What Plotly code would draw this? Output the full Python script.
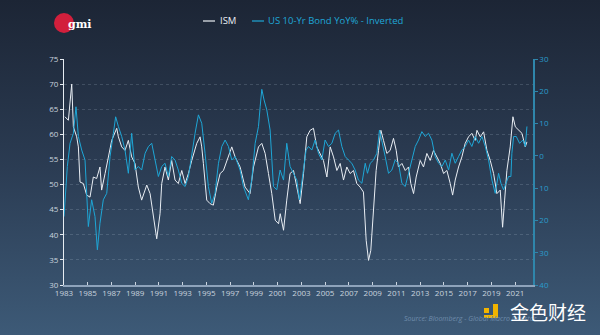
import base64
import plotly.graph_objects as go

# ---------------- data ----------------
ism_year = [1983.08, 1983.37, 1983.65, 1983.79, 1984.07, 1984.21, 1984.35, 1984.63, 1984.91, 1985.19,
            1985.47, 1985.75, 1986.03, 1986.17, 1986.46, 1986.74, 1987.02, 1987.44, 1987.58, 1987.86,
            1988.14, 1988.42, 1988.70, 1988.98, 1989.26, 1989.54, 1989.83, 1989.97, 1990.25, 1990.67,
            1990.81, 1991.09, 1991.23, 1991.51, 1991.79, 1992.07, 1992.35, 1992.63, 1992.92, 1993.20,
            1993.48, 1993.76, 1994.18, 1994.46, 1994.60, 1994.74, 1995.02, 1995.30, 1995.58, 1995.87,
            1996.15, 1996.43, 1996.71, 1997.13, 1997.41, 1997.83, 1998.25, 1998.67, 1998.96, 1999.38,
            1999.66, 1999.94, 2000.22, 2000.50, 2000.79, 2001.07, 2001.21, 2001.49, 2001.76, 2002.04,
            2002.33, 2002.61, 2002.89, 2003.17, 2003.45, 2003.73, 2004.01, 2004.29, 2004.57, 2004.85,
            2005.14, 2005.42, 2005.70, 2005.98, 2006.26, 2006.54, 2006.82, 2007.10, 2007.38, 2007.66,
            2007.94, 2008.22, 2008.45, 2008.65, 2008.84, 2009.07, 2009.29, 2009.49, 2009.69, 2009.91,
            2010.19, 2010.47, 2010.75, 2010.98, 2011.17, 2011.46, 2011.74, 2012.02, 2012.21, 2012.44,
            2012.66, 2013.00, 2013.28, 2013.56, 2013.84, 2014.12, 2014.40, 2014.69, 2014.97, 2015.25,
            2015.53, 2015.73, 2015.95, 2016.23, 2016.51, 2016.79, 2017.07, 2017.35, 2017.63, 2017.78,
            2018.06, 2018.34, 2018.62, 2018.90, 2019.18, 2019.46, 2019.74, 2019.94, 2020.11, 2020.30,
            2020.58, 2020.81, 2021.01, 2021.29, 2021.57, 2021.85, 2021.99]
ism_value = [63.5, 62.8, 70.0, 61.5, 59.5, 57.5, 50.5, 50.2, 47.9, 47.5,
             51.5, 51.2, 53.5, 48.9, 52.2, 55.5, 58.8, 61.2, 59.5, 57.5,
             56.8, 58.8, 55.5, 54.2, 49.5, 46.9, 48.9, 49.9, 48.2, 41.5,
             39.2, 44.2, 50.2, 53.5, 50.9, 54.8, 50.9, 50.2, 52.8, 50.2,
             52.2, 54.8, 58.2, 59.5, 57.5, 54.2, 46.9, 46.2, 45.9, 49.5,
             52.2, 52.8, 54.8, 57.5, 55.5, 53.5, 49.5, 48.2, 53.5, 57.5,
             58.2, 56.2, 52.2, 48.2, 42.9, 42.2, 44.2, 40.9, 46.9, 52.2,
             52.8, 49.5, 46.2, 52.2, 59.5, 60.8, 61.2, 57.5, 56.2, 54.8,
             51.5, 57.5, 55.5, 52.8, 54.2, 50.9, 53.5, 52.2, 52.8, 50.2,
             49.5, 48.5, 38.9, 34.9, 36.9, 44.9, 52.8, 56.8, 60.8, 58.8,
             56.2, 56.8, 59.2, 56.8, 53.5, 54.2, 52.8, 53.5, 50.2, 48.2,
             51.5, 54.8, 53.5, 56.2, 54.8, 56.8, 55.5, 54.2, 52.2, 52.8,
             50.2, 47.9, 50.9, 53.5, 55.5, 58.2, 59.5, 60.2, 58.8, 60.8,
             59.5, 60.5, 56.8, 54.8, 52.2, 48.2, 48.9, 41.5, 46.9, 52.8,
             57.5, 63.5, 61.5, 60.8, 60.2, 57.5, 58.5]

bond_year = [1983.00, 1983.28, 1983.51, 1983.79, 1984.01, 1984.21, 1984.49, 1984.77, 1985.05, 1985.33,
             1985.61, 1985.81, 1986.03, 1986.31, 1986.60, 1986.88, 1987.16, 1987.35, 1987.58, 1987.86,
             1988.14, 1988.42, 1988.70, 1988.98, 1989.26, 1989.54, 1989.83, 1990.11, 1990.39, 1990.67,
             1990.95, 1991.23, 1991.51, 1991.79, 1992.07, 1992.35, 1992.63, 1992.92, 1993.20, 1993.48,
             1993.76, 1994.04, 1994.32, 1994.60, 1994.88, 1995.16, 1995.44, 1995.72, 1996.01, 1996.29,
             1996.57, 1996.85, 1997.13, 1997.41, 1997.83, 1998.11, 1998.53, 1998.81, 1999.10, 1999.38,
             1999.52, 1999.66, 1999.85, 2000.08, 2000.36, 2000.64, 2000.92, 2001.20, 2001.49, 2001.76,
             2002.04, 2002.33, 2002.61, 2002.83, 2003.17, 2003.39, 2003.59, 2003.87, 2004.15, 2004.43,
             2004.71, 2004.99, 2005.28, 2005.56, 2005.84, 2006.12, 2006.40, 2006.68, 2006.96, 2007.24,
             2007.52, 2007.80, 2008.09, 2008.37, 2008.56, 2008.79, 2009.07, 2009.35, 2009.57, 2009.77,
             2010.05, 2010.33, 2010.61, 2010.89, 2011.17, 2011.46, 2011.74, 2012.02, 2012.30, 2012.58,
             2012.86, 2013.14, 2013.42, 2013.70, 2013.98, 2014.26, 2014.55, 2014.83, 2015.11, 2015.39,
             2015.67, 2015.95, 2016.23, 2016.51, 2016.79, 2017.07, 2017.35, 2017.63, 2017.92, 2018.20,
             2018.48, 2018.76, 2019.04, 2019.32, 2019.60, 2019.80, 2020.02, 2020.25, 2020.44, 2020.64,
             2020.72, 2020.87, 2021.09, 2021.37, 2021.65, 2021.85, 2021.99]
bond_value = [18.8, 3.3, -3.9, -7.0, -15.2, -6.0, -1.8, 1.3, 21.9, 13.6,
              18.8, 29.1, 20.9, 13.6, 11.6, 0.2, -7.0, -12.1, -9.1, -6.0,
              -1.8, 5.4, -7.0, 4.4, 3.3, 4.4, -0.8, -2.9, -3.9, 1.3,
              6.4, 3.3, 2.3, 6.4, 0.2, 1.3, 4.4, 8.5, 9.5, 6.4,
              -0.8, -7.0, -12.7, -10.1, -0.8, 9.5, 14.7, 11.6, 2.3, -2.9,
              -4.9, -2.9, 1.3, 0.2, 4.4, 9.5, 13.6, 7.5, -3.9, -9.1,
              -15.2, -20.6, -17.3, -14.2, -8.0, 9.5, 10.5, 4.4, 7.5, -3.9,
              3.3, 5.4, 7.5, 13.6, 3.3, -1.8, -2.9, -1.8, -4.9, -0.8,
              1.3, -4.9, -2.9, -3.9, -7.0, -8.0, -2.9, 0.2, 1.3, 2.3,
              4.4, 7.5, 8.5, 2.3, 5.4, 2.3, 1.3, -0.8, -8.0, -4.9,
              0.2, 5.4, 4.4, 1.3, 2.3, 8.5, 9.5, 5.4, 1.3, -2.9,
              -4.9, -7.5, -6.0, -7.0, -4.9, 0.2, 2.3, 3.3, 1.3, 4.4,
              -0.8, 2.3, 0.2, -1.8, -2.9, -4.9, -2.9, -6.0, -3.9, -6.0,
              -2.9, 1.3, 7.5, 11.6, 5.4, 8.5, 10.5, 8.5, 6.4, 6.4,
              -0.8, -6.0, -6.0, -3.9, -4.9, -2.9, -9.1]

x_ticks = list(range(1983, 2022, 2))
left_ticks = [30, 35, 40, 45, 50, 55, 60, 65, 70, 75]
right_ticks = [-30, -20, -10, 0, 10, 20, 30, 40]
right_labels = ["30", "20", "10", "0", "10", "20", "30", "40"]

series_names = ["ISM", "US 10-Yr Bond YoY% - Inverted"]
source_text = "Source: Bloomberg - Global Macro Investor"

# ---------------- layout helpers ----------------
W, H = 600, 335
ML, MR, MT, MB = 64, 67, 59, 50
PW, PH = W - ML - MR, H - MT - MB


def px(x):
    return (x - ML) / PW


def py(y):
    return (H - MB - y) / PH


WHITE = "#e9eef4"
CYAN = "#1ea6d6"

fig = go.Figure()
fig.add_trace(go.Scatter(x=bond_year, y=bond_value, yaxis="y2", mode="lines",
                         line=dict(color=CYAN, width=1.0), name=series_names[1]))
fig.add_trace(go.Scatter(x=ism_year, y=ism_value, mode="lines",
                         line=dict(color=WHITE, width=1.0), name=series_names[0]))

svg = ('<svg xmlns="http://www.w3.org/2000/svg" width="600" height="335">'
       '<defs><linearGradient id="g" x1="0" y1="0" x2="0" y2="1">'
       '<stop offset="0" stop-color="#1c2535"/><stop offset="0.5" stop-color="#2b3c53"/>'
       '<stop offset="1" stop-color="#3d5a77"/></linearGradient></defs>'
       '<rect width="600" height="335" fill="url(#g)"/></svg>')
bg = "data:image/svg+xml;base64," + base64.b64encode(svg.encode()).decode()

shapes = [
    # logo circle
    dict(type="circle", xref="paper", yref="paper", x0=px(54), x1=px(74), y0=py(33), y1=py(13),
         fillcolor="#d21f3c", line=dict(width=0), layer="above"),
    # legend samples
    dict(type="line", xref="paper", yref="paper", x0=px(203), x1=px(215), y0=py(21), y1=py(21),
         line=dict(color=WHITE, width=1.2)),
    dict(type="line", xref="paper", yref="paper", x0=px(252), x1=px(264), y0=py(21), y1=py(21),
         line=dict(color=CYAN, width=1.2)),
    # watermark icon
    dict(type="rect", xref="paper", yref="paper", x0=px(484), x1=px(489), y0=py(313), y1=py(308),
         fillcolor="#f2b400", line=dict(width=0)),
    dict(type="rect", xref="paper", yref="paper", x0=px(493), x1=px(498), y0=py(318), y1=py(304),
         fillcolor="#f2b400", line=dict(width=0)),
    dict(type="rect", xref="paper", yref="paper", x0=px(484), x1=px(498), y0=py(318), y1=py(315),
         fillcolor="#f2b400", line=dict(width=0)),
]

annotations = [
    dict(text="<b>gmi</b>", xref="paper", yref="paper", x=px(66), y=py(24), xanchor="left",
         yanchor="middle", showarrow=False,
         font=dict(family="DejaVu Serif", size=11, color="#ffffff")),
    dict(text=series_names[0], xref="paper", yref="paper", x=px(218), y=py(21), xanchor="left",
         yanchor="middle", showarrow=False, font=dict(family="Open Sans", size=9.5, color=WHITE)),
    dict(text=series_names[1], xref="paper", yref="paper", x=px(266), y=py(21), xanchor="left",
         yanchor="middle", showarrow=False, font=dict(family="Open Sans", size=9.5, color=CYAN)),
    dict(text="<i>" + source_text + "</i>", xref="paper", yref="paper", x=px(402), y=py(318),
         xanchor="left", yanchor="middle", showarrow=False,
         font=dict(family="Open Sans", size=7, color="#6f8cab")),
    dict(text="金色财经", xref="paper", yref="paper", x=px(508), y=py(311), xanchor="left",
         yanchor="middle", showarrow=False,
         font=dict(family="Noto Sans CJK SC", size=19, color="#ffffff")),
]

fig.update_layout(
    width=W, height=H,
    margin=dict(l=ML, r=MR, t=MT, b=MB, pad=0),
    paper_bgcolor="#2b3b51", plot_bgcolor="rgba(0,0,0,0)",
    showlegend=False,
    images=[dict(source=bg, xref="paper", yref="paper", x=px(0), y=py(0),
                 sizex=W / PW, sizey=H / PH, sizing="stretch", xanchor="left",
                 yanchor="top", layer="below")],
    shapes=shapes,
    annotations=annotations,
    xaxis=dict(range=[1983, 2022.5], tickvals=x_ticks, ticktext=[str(t) for t in x_ticks],
               showgrid=False, zeroline=False, showline=True, linecolor="#8ea3bb", linewidth=1.5,
               ticks="inside", ticklen=3, tickcolor="#c9d3de",
               tickfont=dict(family="Open Sans", size=8, color="#c9d3de")),
    yaxis=dict(range=[30, 75], tickvals=left_ticks, showgrid=True,
               gridcolor="rgba(200,215,235,0.18)", griddash="dot", gridwidth=1,
               zeroline=False, showline=True, linecolor="#e6ecf2", linewidth=1.2,
               ticks="outside", ticklen=3, tickcolor="#e6ecf2",
               tickfont=dict(family="Open Sans", size=8, color="#c9d3de")),
    yaxis2=dict(range=[40, -30], overlaying="y", side="right", tickvals=right_ticks,
                ticktext=right_labels, showgrid=False, zeroline=False, showline=True,
                linecolor="#2f86ab", linewidth=1.5, ticks="outside", ticklen=3, tickcolor="#2f86ab",
                tickfont=dict(family="Open Sans", size=8, color="#2a9ccc")),
)

fig.write_html("out.html")
